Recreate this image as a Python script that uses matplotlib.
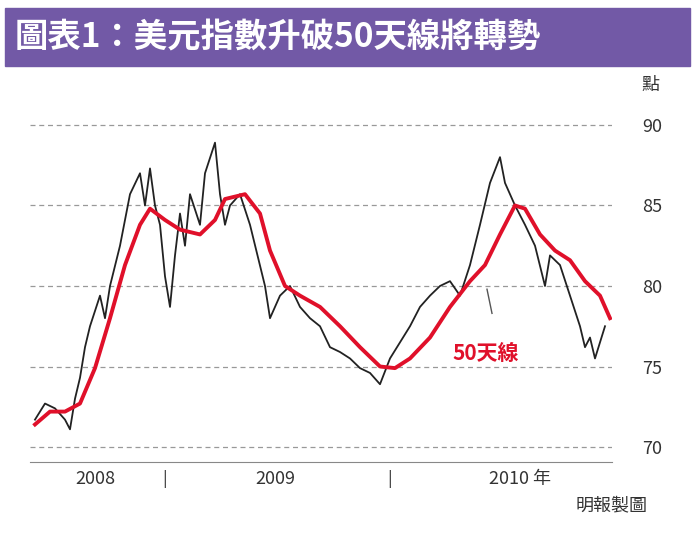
import matplotlib
matplotlib.use("Agg")
import matplotlib.pyplot as plt
from matplotlib.patches import Rectangle
from matplotlib import font_manager

names = {f.name for f in font_manager.fontManager.ttflist}
FONT = [n for n in ["Noto Sans CJK TC","Noto Sans CJK JP","Noto Sans CJK SC","Noto Sans CJK KR"] if n in names] + ["DejaVu Sans"]
plt.rcParams["font.family"] = FONT

title = "圖表1：美元指數升破50天線將轉勢"
price_x = [35,45,55,65,70,75,80,85,90,100,105,110,120,130,140,145,150,155,160,165,170,175,180,185,190,200,205,215,220,225,230,240,250,265,270,280,290,300,310,320,330,340,350,360,370,380,390,400,410,420,430,440,450,460,470,480,490,500,505,515,525,535,545,550,560,570,580,585,590,595,600,605]
price_y = [71.7,72.7,72.4,71.7,71.1,73,74.3,76.2,77.5,79.4,78,80,82.5,85.7,87,85,87.3,85,83.8,80.6,78.7,81.9,84.5,82.5,85.7,83.8,87,88.9,85.7,83.8,85,85.7,83.8,80,78,79.4,80,78.7,78,77.5,76.2,75.9,75.5,74.9,74.6,73.9,75.5,76.5,77.5,78.7,79.4,80,80.3,79.4,81.3,83.8,86.4,88,86.4,85,83.8,82.5,80,81.9,81.3,79.4,77.5,76.2,76.8,75.5,76.5,77.5]
ma_x = [35,50,65,80,95,110,125,140,150,165,180,200,215,225,245,260,270,285,300,320,340,360,380,395,410,430,450,470,485,500,515,525,540,555,570,585,600,610]
ma_y = [71.4,72.2,72.2,72.7,74.9,78,81.3,83.8,84.8,84.1,83.5,83.2,84.1,85.4,85.7,84.5,82.2,80,79.4,78.7,77.5,76.2,75,74.9,75.5,76.8,78.7,80.3,81.3,83.2,85,84.8,83.2,82.2,81.6,80.3,79.4,78]
yticks = [70,75,80,85,90]
year_labels = ["2008","2009","2010 年"]
year_pos = [95,275,520]
sep_pos = [165,390]

fig = plt.figure(figsize=(6.94,5.4), dpi=100)
fig.patch.set_facecolor("white")
fig.patches.append(Rectangle((5/694,1-66/540),685/694,58/540,transform=fig.transFigure,color="#7259a6",zorder=0))
fig.text(15/694,1-38/540,title,color="white",fontsize=24,fontweight="bold",ha="left",va="center")

ax = fig.add_axes([30/694,1-462/540,582/694,367/540])
ax.set_xlim(30,612)
ax.set_ylim(69.07,91.86)
for v in yticks:
    ax.axhline(v,color="#999999",ls=(0,(4,3)),lw=0.9,zorder=0)
ax.plot(price_x,price_y,color="#222222",lw=1.3)
ax.plot(ma_x,ma_y,color="#e0102a",lw=2.8)
ax.yaxis.tick_right()
ax.set_yticks(yticks)
ax.set_yticklabels([str(v) for v in yticks],fontsize=13,color="#333333")
ax.tick_params(axis="y",length=0,pad=22)
ax.set_xticks([])
for s in ["top","left","right"]:
    ax.spines[s].set_visible(False)
ax.spines["bottom"].set_color("#888888")
for x,l in zip(year_pos,year_labels):
    ax.text(x,68.0,l,ha="center",va="center",fontsize=13,color="#333333")
for x in sep_pos:
    ax.text(x,68.0,"|",ha="center",va="center",fontsize=12,color="#333333")
ax.text(452,75.8,"50天線",color="#e0102a",fontsize=15,fontweight="bold",ha="left",va="center",clip_on=False)
ax.plot([487,492],[79.8,78.3],color="#555555",lw=1)
fig.text(650/694,1-85/540,"點",fontsize=13,color="#333333",ha="center",va="center")
fig.text(648/694,1-505/540,"明報製圖",fontsize=13,color="#333333",ha="right",va="center")
fig.savefig("out.png",dpi=100)
